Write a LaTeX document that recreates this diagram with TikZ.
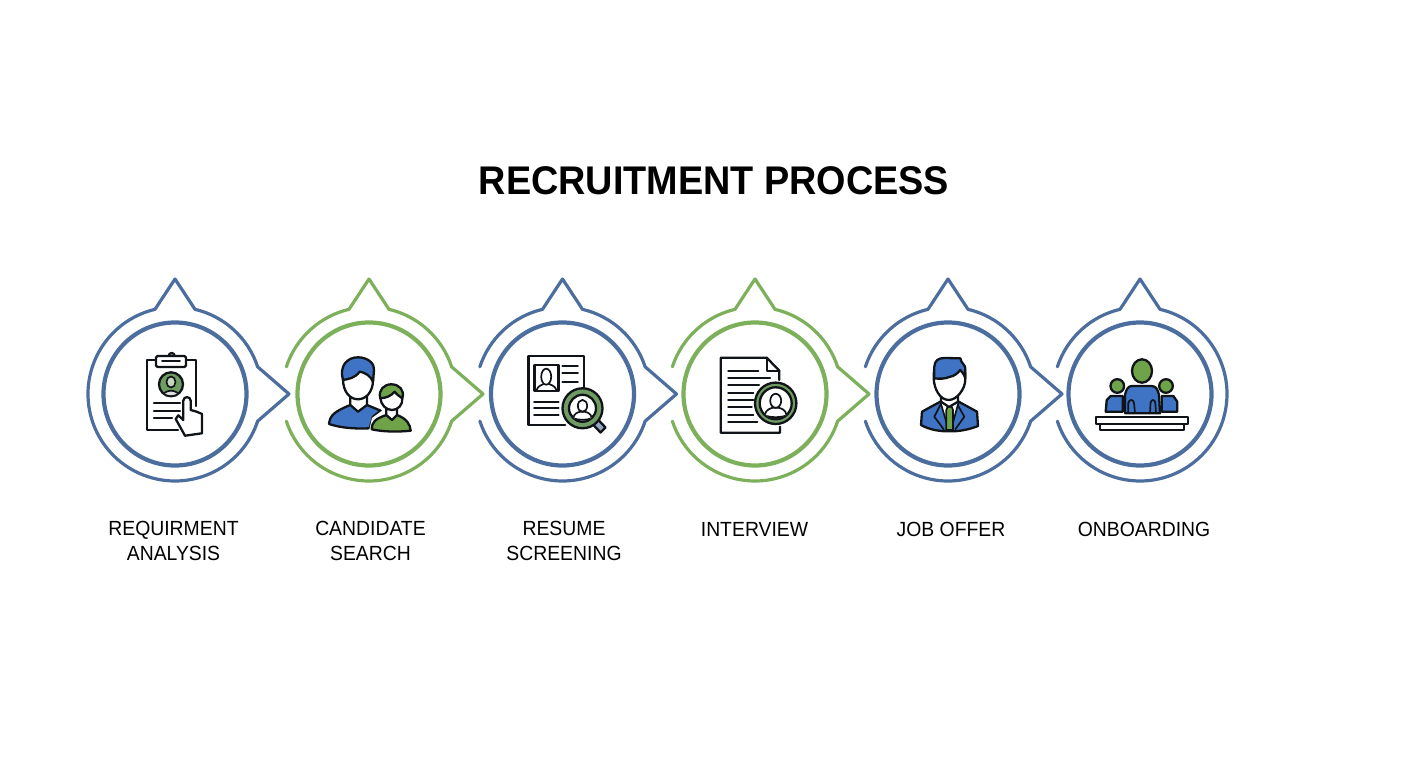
\documentclass[tikz,border=0pt]{standalone}
\usepackage{fontspec}
\setmainfont{Liberation Sans}
\newfontfamily\titlefont[FakeStretch=0.945]{Liberation Sans Bold}
\newfontfamily\labelfont[FakeStretch=0.945]{Liberation Sans}
\definecolor{ringblue}{HTML}{4C6E9F}
\definecolor{ringgreen}{HTML}{7DB05A}
\definecolor{iconblue}{HTML}{3F74C4}
\definecolor{icongreen}{HTML}{6FA34A}
\definecolor{badgegreen}{HTML}{6F9C62}
\definecolor{inkdark}{HTML}{101418}
\tikzset{
  ringouter/.style={line width=3.2pt,line join=round,line cap=round},
  ringinner/.style={line width=4.2pt},
  ink/.style={draw=inkdark,line width=2.3pt,line join=round,line cap=round},
  inkthin/.style={draw=inkdark,line width=1.7pt,line join=round,line cap=round},
  steplabel/.style={align=center,anchor=north,inner sep=0pt,font=\labelfont\fontsize{20.5}{25}\selectfont,execute at begin node=\rule{0pt}{15.5pt}},
}
% head and shoulders used inside the badges: #1 is the centre, #2 the scale
\newcommand{\badgeperson}[2]{
  \begin{scope}[shift={#1},scale=#2]
    \draw[inkthin,fill=white] (-11,-12) .. controls (-10,-6) and (-5,-5) .. (-3,-4.5)
      -- (3,-4.5) .. controls (5,-5) and (10,-6) .. (11,-12) .. controls (5,-14.5) and (-5,-14.5) .. (-11,-12) -- cycle;
    \draw[inkthin,fill=white] (0,2.5) ellipse (5.5 and 7);
  \end{scope}
}
\begin{document}
\begin{tikzpicture}[x=1pt,y=1pt]
  \useasboundingbox (0,0) rectangle (1408,768);

  \node[font=\titlefont\fontsize{40}{46}\selectfont,inner sep=0pt] (title) at (714,587.5) {RECRUITMENT PROCESS};

  % first ring, closed on the left
  \begin{scope}[shift={(175,374)}]
    \draw[ringblue,ringinner] (0,0) circle (71.5);
    \draw[ringblue,ringouter] (-18.2:87) arc (-18.2:-256.7:87) -- (0,115) -- (76.7:87) arc (76.7:18.2:87) -- (114,0) -- cycle;
  \end{scope}
  % middle rings
  \foreach \cx/\col in {369/ringgreen,562.5/ringblue,755/ringgreen,948/ringblue} {
    \begin{scope}[shift={(\cx,374)}]
      \draw[\col,ringinner] (0,0) circle (71.5);
      \draw[\col,ringouter] (161.8:87) arc (161.8:103.3:87) -- (0,115) -- (76.7:87) arc (76.7:18.2:87) -- (114,0) -- (-18.2:87) arc (-18.2:-161.8:87);
    \end{scope}
  }
  % last ring, no spike on the right
  \begin{scope}[shift={(1140,374)}]
    \draw[ringblue,ringinner] (0,0) circle (71.5);
    \draw[ringblue,ringouter] (161.8:87) arc (161.8:103.3:87) -- (0,115) -- (76.7:87) arc (76.7:-161.8:87);
  \end{scope}

  % clipboard
  \begin{scope}[shift={(175,374)}]
    \draw[ink] (21,-12) -- (21,34) -- (-28.3,34) -- (-28.3,-36) -- (3,-36);
    \draw[ink] (-6.3,38) arc (180:0:3);
    \draw[ink,fill=white,rounded corners=1.5pt] (-19,38) rectangle (11,27);
    \draw[inkthin] (-13,33) -- (5,33);
    \draw[ink,fill=badgegreen] (-4,9.7) circle (12);
    \begin{scope}
      \clip (-4,9.7) circle (11);
      \draw[inkthin,fill=white!75!gray] (-12,-2) .. controls (-11,5) and (3,5) .. (4,-2) -- cycle;
      \draw[inkthin,fill=badgegreen!40!white] (-4,12) ellipse (4.5 and 5.5);
    \end{scope}
    \draw[ink] (-21,-9.3) -- (5,-9.3);
    \draw[ink] (-21,-16.7) -- (5,-16.7);
    \draw[ink] (-21,-24.3) -- (-3,-24.3);
    \draw[ink,fill=white] (8.3,-26) -- (8.3,-6.7) .. controls (8.3,-2) and (15.7,-2) .. (15.7,-6.7) -- (15.7,-16)
      -- (21.7,-17.7) -- (27,-20) -- (27,-39.3) -- (10,-41.7) -- (0.7,-25) -- (3.3,-21.3) -- cycle;
  \end{scope}

  % two candidates
  \begin{scope}[shift={(369,374)}]
    \draw[ink,fill=iconblue] (-40,-30) .. controls (-39,-22) and (-36,-18) .. (-18.7,-11) -- (-2,-11) -- (11.7,-16.7) -- (4,-22.7) -- (0.7,-34.3) .. controls (-14,-35) and (-28,-34) .. (-40,-30) -- cycle;
    \draw[ink,fill=white] (-18.7,-1) -- (-18.7,-11) -- (-11,-17.7) -- (-2,-11) -- (-2,-1) -- cycle;
    \draw[ink,fill=white] (-26,15) .. controls (-26,2) and (-19,-5.3) .. (-11,-5.3) .. controls (-3,-5.3) and (4,2) .. (4,14) -- (4,24) -- (-26,24) -- cycle;
    \draw[ink,fill=iconblue] (-26,14) .. controls (-30,28) and (-22,36.7) .. (-11,36.7) .. controls (-1,36.7) and (6,30) .. (5,24) -- (4,12.3) .. controls (2,18) and (-5,22) .. (-9.3,22.3) .. controls (-14,16) and (-20,15) .. (-26,14) -- cycle;
    \fill[white] (0,-37) -- (3,-24) -- (14,-16) -- (20,-18) -- (20,-38) -- cycle;
    \draw[ink,fill=icongreen] (2.7,-35.3) .. controls (3,-28) and (6,-25) .. (17.3,-21) -- (28,-21) .. controls (38,-25) and (41,-30) .. (41.7,-36.7) .. controls (30,-38) and (14,-38) .. (2.7,-35.3) -- cycle;
    \draw[ink,fill=white] (17.3,-15) -- (17.3,-21) -- (23,-26) -- (28,-21) -- (28,-15) -- cycle;
    \draw[ink,fill=white] (11.3,-4) .. controls (12,-11) and (17,-16) .. (23,-16) .. controls (29,-16) and (34,-11) .. (33.3,-4) -- (33,3) -- (12,3) -- cycle;
    \draw[ink,fill=icongreen] (11.3,-4.3) .. controls (9,4) and (15,9.7) .. (22.3,9.7) .. controls (30,9.7) and (36,4) .. (33.3,-4.3) .. controls (30,-2) and (27,0) .. (25.7,2.3) .. controls (22,-2) and (17,-4) .. (11.3,-4.3) -- cycle;
  \end{scope}

  % resume and magnifier
  \begin{scope}[shift={(562.5,374)}]
    \draw[ink] (21.7,0.7) -- (21.7,38) -- (-34,38) -- (-34,-31) -- (2.7,-31);
    \draw[ink] (-28,29) rectangle (-4,3.3);
    \draw[inkthin] (-16.3,17.3) ellipse (5 and 8);
    \draw[inkthin] (-26,4) .. controls (-24,9) and (-20,9) .. (-19,10);
    \draw[inkthin] (-6,4) .. controls (-8,9) and (-12,9) .. (-13.5,10);
    \draw[ink] (0,28) -- (15.3,28);
    \draw[ink] (0,20.7) -- (15.3,20.7);
    \draw[ink] (0,12.3) -- (15.3,12.3);
    \draw[ink] (-28.3,-7.7) -- (-4,-7.7);
    \draw[ink] (-28.3,-14.3) -- (-4,-14.3);
    \draw[ink] (-28.3,-21) -- (-4,-21);
    \draw[ink,fill=ringblue!60!white] (30,-30) -- (35,-25) -- (43,-33.5) -- (38,-38.5) -- cycle;
    \draw[ink,fill=badgegreen] (20,-14.3) circle (20);
    \draw[ink,fill=white] (20,-14.3) circle (13.5);
    \begin{scope}
      \clip (20,-14.3) circle (13);
      \badgeperson{(20,-14)}{0.85}
    \end{scope}
  \end{scope}

  % document and badge
  \begin{scope}[shift={(755,374)}]
    \draw[ink] (24.3,14) -- (24.3,23.3) -- (11.7,36.3) -- (-34.3,36.3) -- (-34.3,-38.7) -- (25,-38.7) -- (25,-32.7);
    \draw[ink] (11.7,36.3) -- (11.7,23.3) -- (24.3,23.3);
    \foreach \ly/\lx in {23.3/3.3,16/15,8.7/4,1.3/-1.7,-6/-1.7,-13.3/-3.3,-20.7/-1.7,-28/2.3} {
      \draw[ink] (-26.7,\ly) -- (\lx,\ly);
    }
    \draw[ink,fill=badgegreen] (20.7,-9.3) circle (20.7);
    \draw[ink,fill=white] (20.7,-9.3) circle (16);
    \begin{scope}
      \clip (20.7,-9.3) circle (15.5);
      \badgeperson{(20.7,-9.3)}{1}
    \end{scope}
  \end{scope}

  % job offer, man in a suit
  \begin{scope}[shift={(948,374)}]
    \draw[ink,fill=iconblue] (-27,-31) -- (-26,-17.7) -- (-7.7,-7.7) -- (10.7,-7.7) -- (29,-17.7) -- (30,-32) .. controls (20,-36) and (10,-37.5) .. (2.3,-37.3) .. controls (-8,-37.5) and (-18,-36) .. (-27,-31) -- cycle;
    \draw[inkthin,fill=white] (-7.7,-7.7) -- (0.7,-36) -- (3,-36) -- (10.7,-7.7) -- cycle;
    \draw[inkthin,fill=icongreen] (-0.3,-12.7) -- (3.7,-12.7) -- (5,-16) -- (5,-36) -- (-1.7,-36) -- (-1.7,-16) -- cycle;
    \draw[inkthin] (-7.7,-11) -- (-13.7,-22.7) -- (-4.3,-35.3);
    \draw[inkthin] (9.7,-11) -- (16.3,-22.7) -- (7.3,-35.3);
    \draw[ink,fill=white] (-7,0) -- (-7,-7.7) -- (1,-13) -- (10,-7.7) -- (10,0) -- cycle;
    \draw[ink,fill=white] (-14.3,15.7) .. controls (-14,5) and (-8,-6) .. (0.7,-6) .. controls (9,-6) and (17,5) .. (17.3,14) -- (17,25) -- (-14,25) -- cycle;
    \draw[ink,fill=iconblue] (-13.7,15.7) -- (-13.7,27) .. controls (-13.5,33) and (-10,36) .. (-4,36) -- (12.3,35.7) .. controls (13,31) and (17.3,29) .. (17.3,25.7) -- (17.3,15.7) .. controls (16,20) and (14,22) .. (12.3,24) .. controls (9,20) and (6,18) .. (2.3,17.3) .. controls (-3,15) and (-9,15) .. (-13.7,15.7) -- cycle;
  \end{scope}

  % onboarding, people behind a desk
  \begin{scope}[shift={(1140,374)}]
    \draw[ink,fill=iconblue] (-34.3,-17.7) -- (-33.3,-6) -- (-29.3,-2) -- (-17.3,-2) -- (-17.3,-17.7) -- cycle;
    \draw[ink,fill=iconblue] (21.7,-2) -- (33.3,-2) -- (37.3,-7.7) -- (37.3,-17.7) -- (21.7,-17.7) -- cycle;
    \draw[ink,fill=icongreen] (-22.7,8) circle (6.8);
    \draw[ink,fill=icongreen] (26,8) circle (6.8);
    \draw[ink,fill=icongreen] (2,23) ellipse (10 and 11.7);
    \draw[ink,fill=iconblue] (-15,-19.3) -- (-15,-1) .. controls (-14,4) and (-12,8) .. (-8.3,8) -- (11.7,8) .. controls (16,8) and (18,4) .. (19,-1) -- (20,-19.3) -- cycle;
    \draw[inkthin] (-11.7,-19.3) -- (-11.7,-9) .. controls (-11,-5) and (-6.5,-5) .. (-6,-9) -- (-5,-19.3);
    \draw[inkthin] (10,-19.3) -- (10.5,-9) .. controls (11,-5) and (15,-5) .. (15.3,-9) -- (16,-19.3);
    \draw[ink,fill=white] (-40,-30.3) rectangle (44,-36);
    \draw[ink,fill=white] (-44.3,-23.3) rectangle (47.7,-30.3);
  \end{scope}

  \node[steplabel] (labelone) at (173.5,247.5) {REQUIRMENT\\ANALYSIS};
  \node[steplabel] (labeltwo) at (370.5,247.5) {CANDIDATE\\SEARCH};
  \node[steplabel] (labelthree) at (564,247.5) {RESUME\\SCREENING};
  \node[steplabel] (labelfour) at (754.5,247.5) {INTERVIEW};
  \node[steplabel] (labelfive) at (951,247.5) {JOB OFFER};
  \node[steplabel] (labelsix) at (1144,247.5) {ONBOARDING};
\end{tikzpicture}
\end{document}
